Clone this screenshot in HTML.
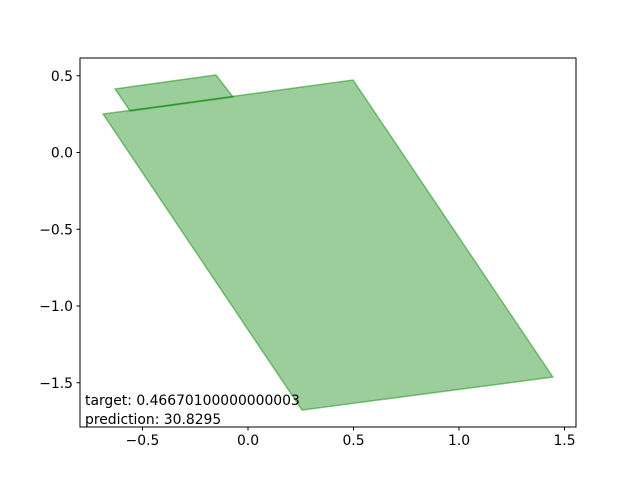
<!DOCTYPE html>
<html><head><meta charset="utf-8"><style>
body{margin:0;background:#fff;}
svg text{font-family:"DejaVu Sans","Liberation Sans",sans-serif;font-size:13.9px;fill:#000;}
</style></head><body>
<svg id="chart" width="640" height="480" xmlns="http://www.w3.org/2000/svg">
<rect x="0" y="0" width="640" height="480" fill="#fff"/>
<g id="polys"></g>
<rect x="80" y="58" width="496" height="369" fill="none" stroke="#000" stroke-width="1"/>
<g id="ticks"></g>
<text x="85" y="405">target: 0.46670100000000003</text>
<text x="85" y="424">prediction: 30.8295</text>
</svg>
<script>
const xTicks=[-0.5,0.0,0.5,1.0,1.5];
const xTickLabels=["−0.5","0.0","0.5","1.0","1.5"];
const yTicks=[0.5,0.0,-0.5,-1.0,-1.5];
const yTickLabels=["0.5","0.0","−0.5","−1.0","−1.5"];
const bigPolyX=[-0.687,0.498,1.445,0.256];
const bigPolyY=[0.251,0.472,-1.463,-1.678];
const smallPolyX=[-0.630,-0.152,-0.071,-0.559];
const smallPolyY=[0.414,0.505,0.362,0.270];
const sx=v=>248+v*211;
const sy=v=>152.5-v*153.5;
const NS="http://www.w3.org/2000/svg";
const pg=document.getElementById('polys');
function poly(xs,ys,name){
  const p=document.createElementNS(NS,'polygon');
  p.setAttribute('points',xs.map((x,i)=>sx(x)+','+sy(ys[i])).join(' '));
  p.setAttribute('fill','rgba(0,128,0,0.39)');
  p.setAttribute('stroke','rgba(0,128,0,0.45)');
  p.setAttribute('stroke-width','1.5');
  
  
  pg.appendChild(p);
}
poly(bigPolyX,bigPolyY,'polygon-large');
poly(smallPolyX,smallPolyY,'polygon-small');
const tg=document.getElementById('ticks');
xTicks.forEach((v,i)=>{
  const X=sx(v);
  const l=document.createElementNS(NS,'line');
  l.setAttribute('x1',X);l.setAttribute('x2',X);l.setAttribute('y1',427);l.setAttribute('y2',430.5);
  l.setAttribute('stroke','#000');
  
  
  tg.appendChild(l);
  const t=document.createElementNS(NS,'text');
  t.setAttribute('x',X);t.setAttribute('y',445);t.setAttribute('text-anchor','middle');
  t.textContent=xTickLabels[i];
  
  
  tg.appendChild(t);
});
yTicks.forEach((v,i)=>{
  const Y=sy(v);
  const l=document.createElementNS(NS,'line');
  l.setAttribute('x1',76.5);l.setAttribute('x2',80);l.setAttribute('y1',Y);l.setAttribute('y2',Y);
  l.setAttribute('stroke','#000');
  
  
  tg.appendChild(l);
  const t=document.createElementNS(NS,'text');
  t.setAttribute('x',73);t.setAttribute('y',Y+5);t.setAttribute('text-anchor','end');
  t.textContent=yTickLabels[i];
  
  
  tg.appendChild(t);
});
</script>
</body></html>
